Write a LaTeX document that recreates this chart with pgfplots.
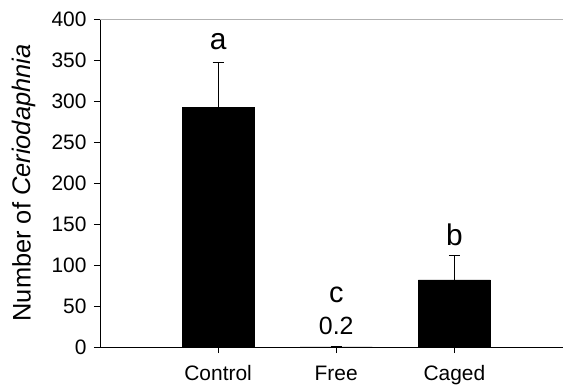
\documentclass[border=0pt]{standalone}
\usepackage{fontspec}
\setmainfont{Liberation Sans}
\usepackage{pgfplots}
\pgfplotsset{compat=1.18}
\begin{document}
\begin{tikzpicture}
\begin{axis}[
  at={(0,0)}, anchor=south west,
  scale only axis, width=463bp, height=328bp,
  xmin=0, xmax=3.92, ymin=0, ymax=400,
  axis x line=bottom, axis y line=left,
  axis line style={-, line width=0.8bp, black},
  xtick={1,2,3}, xticklabels={Control,Free,Caged},
  ytick={0,50,...,400},
  tick style={black, line width=0.8bp},
  major tick length=6bp,
  tick align=outside,
  x tick label style={font=\fontsize{21}{23}\selectfont, text height=16bp, text depth=5bp, yshift=-8bp},
  y tick label style={font=\fontsize{21}{23}\selectfont, xshift=-4bp},
  /pgf/number format/assume math mode=true,
  ylabel={Number of \textit{Ceriodaphnia}},
  ylabel style={font=\fontsize{25.5}{27}\selectfont, at={(axis description cs:-0.164,0.5)}, anchor=center},
  clip=false,
]
\addplot[ybar, bar width=0.61, fill=black, draw=black,
  error bars/.cd, y dir=plus, y explicit,
  error bar style={black, line width=0.7bp},
  error mark options={rotate=90, mark size=5.5bp, line width=0.7bp, black}]
  coordinates {(1,292) +- (0,55) (2,0.2) +- (0,0) (3,82) +- (0,30)};
\draw[gray!60, line width=0.6bp] (rel axis cs:0,1) -- (rel axis cs:1,1);
\node[font=\fontsize{30}{32}\selectfont] at (axis cs:1,372) {a};
\node[font=\fontsize{29}{31}\selectfont] at (axis cs:2,63) {c};
\node[font=\fontsize{25}{27}\selectfont] at (axis cs:2,26) {0.2};
\node[font=\fontsize{30}{32}\selectfont] at (axis cs:3,137) {b};
\end{axis}
\pgfresetboundingbox
\path (-100bp,-38bp) rectangle (463bp,347bp);
\end{tikzpicture}
\end{document}
